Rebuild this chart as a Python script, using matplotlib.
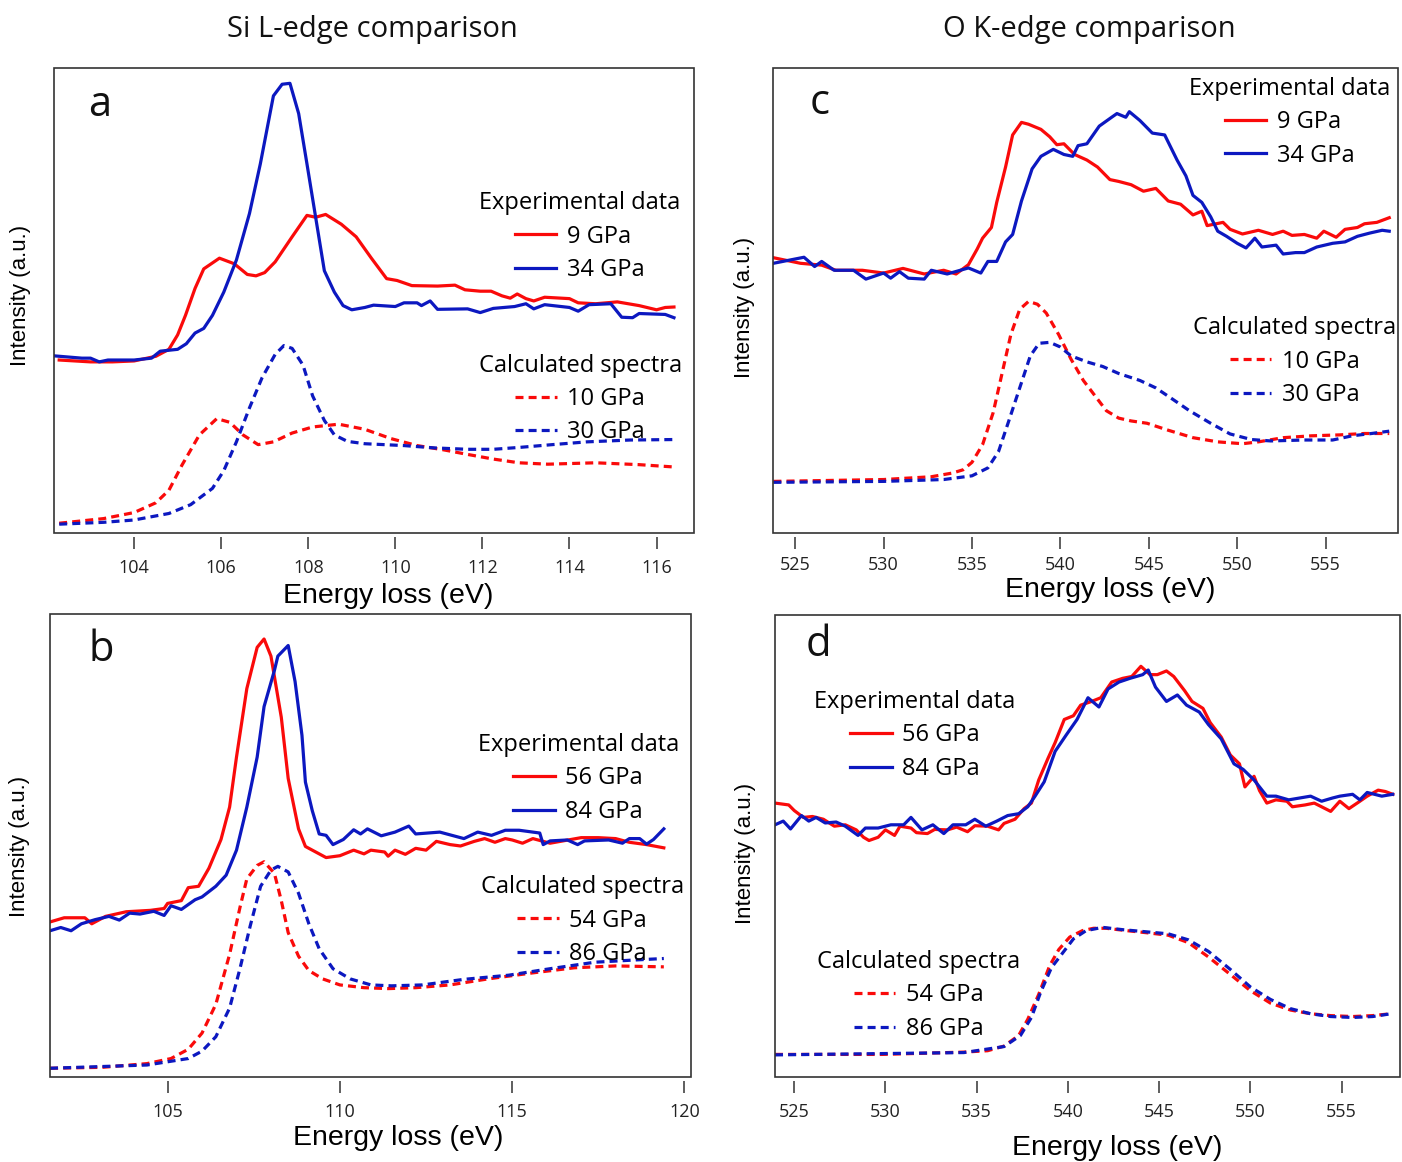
import matplotlib
matplotlib.use('Agg')
import matplotlib.pyplot as plt
from matplotlib.patches import Rectangle

# ---------------- datos ----------------
# panel a : Si L-edge, 9 / 34 GPa (experimental) y 10 / 30 GPa (calculado)
a_exp9_x = [102.28, 103.0, 103.5, 104.0, 104.5, 104.8, 105.0, 105.18, 105.4, 105.6, 105.96, 106.3, 106.6, 106.8,
            107.0, 107.24, 107.63, 107.97, 108.17, 108.4, 108.76, 109.1, 109.45, 109.8, 110.04, 110.38, 110.97,
            111.37, 111.6, 111.95, 112.2, 112.45, 112.64, 112.8, 113.0, 113.18, 113.43, 114.0, 114.2, 114.6, 115.1,
            115.6, 116.0, 116.2, 116.4]
a_exp9_y = [37.2, 36.8, 36.8, 37.0, 38.0, 39.5, 42.6, 46.8, 52.6, 56.8, 59.1, 57.9, 55.6, 55.3, 56.0, 58.3, 63.7,
            68.3, 67.9, 68.5, 66.4, 63.7, 59.1, 54.7, 54.3, 53.2, 53.1, 53.3, 52.3, 52.0, 52.0, 51.0, 50.5, 51.4,
            50.4, 49.9, 50.7, 50.4, 49.5, 49.3, 49.7, 48.9, 48.0, 48.5, 48.6]
a_exp34_x = [102.16, 102.8, 103.0, 103.2, 103.4, 104.0, 104.4, 104.6, 105.0, 105.2, 105.4, 105.6, 105.8, 106.06,
             106.35, 106.65, 106.9, 107.2, 107.4, 107.58, 107.78, 107.97, 108.17, 108.37, 108.6, 108.8, 109.0,
             109.3, 109.5, 110.0, 110.2, 110.5, 110.6, 110.8, 110.97, 111.66, 111.95, 112.25, 112.74, 113.0,
             113.18, 113.43, 114.0, 114.2, 114.45, 114.95, 115.2, 115.45, 115.6, 116.2, 116.4]
a_exp34_y = [38.1, 37.6, 37.6, 36.8, 37.2, 37.2, 37.6, 39.1, 39.5, 40.7, 43.0, 44.0, 46.8, 51.8, 58.7, 68.7, 79.4,
             94.0, 96.5, 96.7, 90.2, 79.4, 67.9, 56.4, 51.8, 48.9, 48.0, 48.5, 49.0, 48.7, 49.5, 49.5, 48.9, 49.9,
             48.1, 48.2, 47.4, 48.3, 48.7, 49.3, 48.2, 49.1, 48.5, 47.7, 49.1, 49.3, 46.4, 46.3, 47.2, 47.0, 46.3]
a_calc10_x = [102.28, 103.3, 104.0, 104.5, 104.8, 105.1, 105.5, 105.9, 106.2, 106.5, 106.85, 107.2, 107.63, 108.1,
              108.7, 109.3, 109.9, 110.5, 111.1, 111.66, 112.25, 112.84, 113.5, 114.6, 115.6, 116.4]
a_calc10_y = [2.1, 3.1, 4.4, 6.5, 9.2, 14.6, 21.1, 24.6, 23.8, 21.1, 19.0, 19.6, 21.5, 22.8, 23.4, 22.3, 20.3,
              18.8, 17.9, 16.9, 15.9, 15.1, 14.8, 15.1, 14.7, 14.2]
a_calc30_x = [102.28, 103.3, 104.0, 104.8, 105.3, 105.8, 106.06, 106.35, 106.65, 106.94, 107.24, 107.44, 107.63,
              107.88, 108.1, 108.37, 108.6, 108.9, 109.3, 110.2, 110.9, 111.66, 112.25, 112.84, 113.6, 114.4,
              115.4, 116.4]
a_calc30_y = [1.9, 2.3, 2.8, 4.2, 6.1, 9.6, 13.4, 19.6, 26.9, 33.4, 38.4, 40.3, 39.7, 36.1, 29.5, 24.2, 21.1,
              19.7, 19.2, 18.8, 18.3, 18.0, 18.0, 18.4, 19.0, 19.6, 20.0, 20.1]

# panel c : O K-edge, 9 / 34 GPa y 10 / 30 GPa
c_exp9_x = [523.77, 525.3, 526.5, 527.3, 528.8, 530.0, 531.1, 532.3, 533.4, 534.1, 534.8, 535.3, 535.6, 536.1,
            536.4, 536.9, 537.3, 537.8, 538.2, 538.9, 539.4, 539.8, 540.2, 540.8, 541.5, 542.1, 542.8, 543.3,
            544.0, 544.7, 545.4, 546.1, 546.8, 547.5, 548.0, 548.3, 549.2, 549.6, 550.3, 551.2, 552.0, 552.6,
            553.1, 553.8, 554.5, 554.9, 555.6, 556.1, 556.8, 557.2, 557.9, 558.6]
c_exp9_y = [59.2, 58.0, 57.6, 56.5, 56.5, 55.9, 56.9, 55.7, 56.5, 55.7, 57.7, 61.1, 63.4, 65.7, 71.1, 78.7, 85.6,
            88.3, 87.9, 86.8, 85.2, 83.5, 83.7, 81.4, 80.2, 78.7, 76.0, 75.6, 74.9, 73.5, 74.1, 71.4, 70.7, 68.4,
            69.2, 66.1, 66.8, 65.3, 64.3, 65.1, 64.2, 64.9, 64.0, 64.2, 63.4, 64.9, 63.6, 65.3, 65.7, 66.5, 66.8,
            67.8]
c_exp34_x = [523.77, 525.5, 526.1, 526.5, 527.2, 528.3, 529.0, 530.0, 530.4, 530.9, 531.4, 532.3, 532.7, 533.6,
             534.8, 535.5, 535.9, 536.4, 536.9, 537.3, 537.8, 538.4, 538.9, 539.6, 540.2, 540.7, 541.0, 541.5,
             542.2, 542.9, 543.2, 543.7, 543.9, 544.5, 545.2, 545.9, 546.6, 547.1, 547.5, 548.0, 548.5, 548.9,
             549.4, 550.0, 550.5, 551.0, 551.4, 552.2, 552.6, 553.3, 553.8, 554.5, 555.4, 556.1, 556.8, 557.5,
             558.2, 558.6]
c_exp34_y = [58.0, 59.3, 57.3, 58.4, 56.5, 56.5, 54.6, 55.9, 54.8, 56.2, 54.8, 54.6, 56.5, 55.7, 57.0, 55.9, 58.4,
             58.4, 62.6, 64.2, 71.4, 78.3, 81.0, 82.5, 81.4, 81.0, 83.3, 83.7, 87.5, 89.4, 90.2, 89.4, 90.6, 88.7,
             86.0, 85.6, 80.2, 76.8, 72.6, 71.1, 68.0, 64.9, 63.8, 62.3, 61.3, 63.4, 61.5, 61.9, 60.0, 60.3, 60.3,
             61.5, 62.3, 62.6, 63.8, 64.5, 65.1, 64.9]
c_calc10_x = [523.77, 530.0, 532.7, 533.9, 534.5, 535.0, 535.6, 536.2, 536.7, 537.2, 537.7, 538.2, 538.7, 539.2,
              539.9, 540.6, 541.3, 542.0, 542.6, 543.3, 544.0, 544.9, 546.1, 547.5, 548.9, 550.3, 551.2, 552.6,
              554.2, 555.8, 557.2, 558.6]
c_calc10_y = [11.1, 11.5, 12.1, 12.9, 13.6, 15.2, 19.0, 25.9, 34.3, 42.7, 48.1, 49.8, 49.2, 47.3, 42.7, 37.4, 32.8,
              29.3, 26.3, 24.7, 24.1, 23.6, 22.1, 20.5, 19.6, 19.2, 19.6, 20.5, 20.9, 21.1, 21.4, 21.4]
c_calc30_x = [523.77, 530.0, 533.4, 535.0, 535.9, 536.5, 537.1, 537.7, 538.3, 538.8, 539.4, 540.0, 540.6, 541.5,
              542.4, 543.3, 544.5, 545.4, 546.3, 547.3, 548.5, 549.6, 550.8, 551.9, 553.8, 555.4, 556.5, 557.6,
              558.6]
c_calc30_y = [10.9, 11.1, 11.5, 12.3, 14.0, 17.5, 24.3, 31.2, 38.1, 40.8, 41.0, 40.0, 38.1, 36.8, 35.8, 34.3, 32.8,
              31.2, 28.9, 26.3, 23.6, 21.3, 20.1, 19.8, 20.0, 20.0, 20.9, 21.4, 21.9]

# panel b : Si L-edge, 56 / 84 GPa y 54 / 86 GPa
b_exp56_x = [101.59, 102.0, 102.6, 102.8, 103.2, 103.8, 104.5, 104.9, 105.0, 105.4, 105.6, 105.9, 106.2, 106.55,
             106.8, 107.0, 107.3, 107.6, 107.8, 108.0, 108.3, 108.5, 108.8, 109.0, 109.3, 109.6, 110.0, 110.4,
             110.7, 110.9, 111.3, 111.4, 111.6, 111.9, 112.2, 112.5, 112.8, 113.2, 113.5, 113.9, 114.2, 114.5,
             114.8, 115.0, 115.3, 115.6, 116.1, 116.7, 117.0, 117.5, 118.0, 118.4, 118.9, 119.4]
b_exp56_y = [33.5, 34.4, 34.4, 33.1, 34.7, 35.7, 36.0, 36.4, 37.5, 38.1, 40.9, 41.2, 45.1, 51.3, 58.3, 69.1, 83.9,
             92.8, 94.6, 90.9, 77.7, 64.5, 53.6, 49.8, 48.6, 47.4, 47.8, 49.0, 48.2, 49.0, 48.6, 47.7, 49.0, 48.1,
             49.4, 49.0, 50.9, 50.2, 49.9, 50.9, 51.5, 50.7, 51.5, 51.2, 50.5, 51.5, 50.5, 51.3, 51.7, 51.7, 51.5,
             50.7, 50.2, 49.5]
b_exp84_x = [101.59, 101.9, 102.2, 102.5, 102.9, 103.3, 103.6, 103.9, 104.2, 104.6, 104.9, 105.1, 105.4, 105.8,
             106.0, 106.4, 106.7, 107.0, 107.3, 107.6, 107.8, 108.1, 108.2, 108.5, 108.7, 108.9, 109.0, 109.2,
             109.4, 109.6, 109.8, 110.1, 110.4, 110.6, 110.8, 111.2, 111.6, 112.0, 112.2, 112.9, 113.6, 114.0,
             114.4, 114.8, 115.2, 115.8, 115.9, 116.1, 116.6, 116.9, 117.1, 117.8, 118.2, 118.4, 118.7, 118.9,
             119.1, 119.4]
b_exp84_y = [31.6, 32.3, 31.6, 33.1, 34.0, 34.7, 33.9, 35.4, 35.2, 35.8, 34.9, 37.0, 36.2, 38.3, 38.9, 41.2, 43.6,
             49.0, 58.3, 69.1, 80.0, 87.8, 90.9, 93.2, 85.4, 73.8, 63.7, 57.5, 52.5, 52.2, 50.2, 51.3, 53.4, 52.5,
             53.6, 52.1, 52.9, 54.2, 52.5, 52.9, 51.5, 52.9, 52.2, 53.3, 53.3, 52.7, 50.2, 51.0, 51.2, 50.2, 51.0,
             51.2, 50.5, 51.5, 51.5, 50.3, 51.3, 53.6]
b_calc54_x = [101.59, 103.1, 104.4, 105.1, 105.6, 106.0, 106.4, 106.8, 107.1, 107.3, 107.6, 107.8, 108.1, 108.3,
              108.5, 108.8, 109.1, 109.5, 110.0, 110.7, 111.4, 112.2, 113.2, 114.3, 115.6, 116.8, 118.0, 119.4]
b_calc54_y = [1.9, 2.1, 2.9, 4.0, 6.0, 9.5, 15.7, 26.5, 36.6, 42.8, 45.7, 46.5, 44.0, 38.1, 31.2, 26.1, 23.0, 21.2,
              19.9, 19.3, 19.1, 19.3, 19.9, 21.2, 22.5, 23.6, 24.0, 23.8]
b_calc86_x = [101.59, 104.4, 105.0, 105.6, 106.0, 106.4, 106.8, 107.1, 107.4, 107.7, 108.0, 108.2, 108.5, 108.8,
              109.1, 109.4, 109.8, 110.3, 110.9, 111.5, 112.4, 113.6, 114.9, 116.1, 117.4, 118.6, 119.4]
b_calc86_y = [1.9, 2.6, 3.3, 4.0, 5.6, 8.7, 14.9, 23.4, 32.7, 41.2, 44.7, 45.5, 44.3, 39.7, 33.1, 27.7, 23.4, 21.2,
              19.9, 19.7, 19.9, 21.1, 22.0, 23.4, 24.8, 25.3, 25.6]

# panel d : O K-edge, 56 / 84 GPa y 54 / 86 GPa
d_exp56_x = [523.95, 524.7, 525.0, 525.5, 526.0, 526.6, 527.2, 527.8, 528.4, 528.8, 529.1, 529.6, 530.0, 530.5,
             530.8, 531.4, 531.7, 532.3, 532.7, 533.4, 533.9, 534.5, 534.9, 535.6, 536.2, 536.5, 537.1, 537.6,
             538.0, 538.4, 538.9, 539.3, 539.8, 540.3, 540.7, 541.3, 541.8, 542.4, 543.0, 543.5, 544.0, 544.5,
             544.9, 545.4, 545.8, 546.4, 546.8, 547.4, 547.8, 548.4, 548.9, 549.4, 549.7, 550.2, 550.5, 550.9,
             551.4, 552.0, 552.3, 553.0, 553.5, 554.0, 554.4, 554.9, 555.4, 556.0, 556.4, 557.0, 557.4, 557.8]
d_exp56_y = [59.3, 58.9, 57.7, 56.2, 56.4, 55.8, 54.3, 54.6, 53.5, 51.9, 51.2, 51.9, 53.5, 52.3, 54.3, 53.9, 52.9,
             52.7, 53.6, 53.5, 54.1, 53.1, 54.4, 54.3, 53.5, 54.9, 55.8, 58.1, 59.3, 64.3, 68.9, 72.4, 77.4, 78.2,
             80.5, 81.3, 82.1, 85.5, 86.3, 86.7, 88.9, 87.1, 87.1, 87.9, 86.7, 83.6, 81.3, 79.8, 76.7, 73.6, 69.7,
             67.8, 62.8, 65.1, 62.0, 59.3, 60.0, 59.7, 58.5, 58.9, 59.3, 58.3, 57.5, 59.7, 58.1, 59.7, 60.8, 62.1,
             61.8, 61.2]
d_exp84_x = [523.95, 524.4, 524.8, 525.4, 525.8, 526.2, 526.7, 527.3, 527.8, 528.5, 528.9, 529.6, 530.3, 531.0,
             531.4, 532.0, 532.6, 533.2, 533.7, 534.4, 534.9, 535.5, 536.1, 536.7, 537.3, 537.8, 538.2, 538.7,
             539.3, 539.9, 540.5, 541.1, 541.7, 542.2, 542.8, 543.4, 544.1, 544.4, 544.8, 545.4, 546.0, 546.5,
             547.2, 547.7, 548.4, 549.1, 549.6, 550.2, 550.9, 551.4, 552.1, 552.7, 553.3, 553.9, 554.5, 554.9,
             555.6, 556.0, 556.4, 557.2, 557.8]
d_exp84_y = [54.6, 55.4, 53.7, 56.6, 55.4, 56.2, 55.0, 55.2, 54.3, 52.3, 53.9, 53.9, 54.6, 54.6, 56.2, 53.5, 54.6,
             52.7, 54.6, 54.6, 55.8, 54.3, 55.4, 56.6, 57.0, 58.5, 60.8, 63.9, 70.5, 74.0, 77.4, 82.1, 80.1, 84.0,
             85.5, 86.3, 87.1, 88.1, 84.4, 81.3, 82.7, 80.5, 79.0, 76.3, 73.2, 67.8, 66.6, 64.3, 60.8, 60.8, 60.0,
             60.4, 60.8, 59.7, 60.4, 60.8, 61.2, 60.0, 61.6, 60.8, 61.2]
d_calc54_x = [523.95, 529.8, 534.3, 535.6, 536.5, 537.3, 537.8, 538.4, 539.0, 539.5, 540.1, 540.8, 541.4, 542.1,
              543.2, 544.4, 545.5, 546.6, 547.7, 548.9, 550.0, 551.1, 552.2, 553.3, 554.4, 555.6, 556.7, 557.7]
d_calc54_y = [4.9, 4.9, 5.4, 5.7, 6.7, 9.0, 12.5, 17.9, 24.1, 27.6, 30.3, 31.7, 32.2, 32.2, 31.7, 31.2, 30.7, 29.1,
              26.0, 22.2, 18.7, 16.0, 14.5, 13.7, 13.3, 13.1, 13.3, 13.7]
d_calc86_x = [523.95, 534.3, 536.5, 537.4, 538.0, 538.5, 539.1, 539.7, 540.3, 541.0, 541.9, 543.0, 544.4, 545.5,
              546.6, 547.7, 548.9, 550.0, 551.1, 552.2, 553.3, 554.4, 555.6, 556.7, 557.7]
d_calc86_y = [4.8, 5.3, 6.6, 9.0, 12.9, 18.3, 23.7, 26.8, 29.9, 31.7, 32.4, 31.9, 31.4, 31.0, 29.7, 27.2, 23.3,
              19.5, 16.8, 14.8, 13.7, 13.1, 12.9, 13.1, 13.7]

ticks_si_a = [104, 106, 108, 110, 112, 114, 116]
ticks_si_b = [105, 110, 115, 120]
ticks_o = [525, 530, 535, 540, 545, 550, 555]

ROJO = '#fa0a0a'
AZUL = '#0c18c0'
BORDE = '#333333'
DASH = (0, (2.5, 1.6))

plt.rcParams['font.family'] = ['Open Sans', 'DejaVu Sans']


def Panel(fig, rect, xlim, ticks, letra, letra_pos, series, nombres, leg_exp, leg_calc, xlab_pos, ylab_pos,
          tick_pad=7):
    ax = fig.add_axes(rect)
    lineas = []
    for (x, y), color, ls in zip(series, [ROJO, AZUL, ROJO, AZUL], ['-', '-', DASH, DASH]):
        l, = ax.plot(x, y, color=color, lw=2.3, linestyle=ls, solid_joinstyle='round')
        lineas.append(l)
    ax.set_xlim(xlim)
    ax.set_ylim(0, 100)
    ax.set_yticks([])
    ax.set_xticks(ticks)
    ax.tick_params(axis='x', direction='out', length=8.5, width=1.1, color=BORDE, pad=tick_pad,
                   labelsize=13, labelcolor='#222222')
    # ticks separados del recuadro (estilo R)
    for s in ax.spines.values():
        s.set_visible(False)
    ax.spines['bottom'].set_position(('outward', 3))
    ax.add_patch(Rectangle((0, 0), 1, 1, transform=ax.transAxes, fill=False,
                           lw=1.2, ec=BORDE, clip_on=False, zorder=5))

    ax.text(letra_pos[0], letra_pos[1], letra, transform=ax.transAxes, fontsize=30,
            ha='center', va='center', color='#111111')

    ax.set_xlabel('Energy loss (eV)', fontsize=20.5, family='Liberation Sans', va='center')
    ax.xaxis.set_label_coords(*xlab_pos)
    ax.set_ylabel('Intensity (a.u.)', fontsize=16, family='Liberation Sans', va='center')
    ax.yaxis.set_label_coords(*ylab_pos)

    kw = dict(loc='upper center', frameon=False, alignment='center', fontsize=17, title_fontsize=17,
              handlelength=1.75, handletextpad=0.45, labelspacing=0.4, borderpad=0, borderaxespad=0)
    l1 = ax.legend(lineas[:2], nombres[:2], title='Experimental data', bbox_to_anchor=leg_exp, **kw)
    ax.add_artist(l1)
    ax.legend(lineas[2:], nombres[2:], title='Calculated spectra', bbox_to_anchor=leg_calc, **kw)
    return ax


fig = plt.figure(figsize=(14.02, 11.62), dpi=100)

Panel(fig, [0.0385, 0.5413, 0.4565, 0.4002], (102.16, 116.86), ticks_si_a, 'a', (0.072, 0.92),
      [(a_exp9_x, a_exp9_y), (a_exp34_x, a_exp34_y), (a_calc10_x, a_calc10_y), (a_calc30_x, a_calc30_y)],
      ['9 GPa', '34 GPa', '10 GPa', '30 GPa'], (0.821, 0.735), (0.822, 0.386), (0.522, -0.1355), (-0.053, 0.51))

Panel(fig, [0.5514, 0.5413, 0.4458, 0.4002], (523.75, 559.1), ticks_o, 'c', (0.075, 0.925),
      [(c_exp9_x, c_exp9_y), (c_exp34_x, c_exp34_y), (c_calc10_x, c_calc10_y), (c_calc30_x, c_calc30_y)],
      ['9 GPa', '34 GPa', '10 GPa', '30 GPa'], (0.827, 0.981), (0.835, 0.466), (0.539, -0.122), (-0.046, 0.484),
      tick_pad=5)

Panel(fig, [0.0357, 0.0731, 0.4572, 0.3985], (101.59, 120.19), ticks_si_b, 'b', (0.08, 0.922),
      [(b_exp56_x, b_exp56_y), (b_exp84_x, b_exp84_y), (b_calc54_x, b_calc54_y), (b_calc86_x, b_calc86_y)],
      ['56 GPa', '84 GPa', '54 GPa', '86 GPa'], (0.824, 0.743), (0.83, 0.436), (0.543, -0.132), (-0.047, 0.499))

Panel(fig, [0.5528, 0.0731, 0.4458, 0.3976], (523.95, 558.2), ticks_o, 'd', (0.069, 0.935),
      [(d_exp56_x, d_exp56_y), (d_exp84_x, d_exp84_y), (d_calc54_x, d_calc54_y), (d_calc86_x, d_calc86_y)],
      ['56 GPa', '84 GPa', '54 GPa', '86 GPa'], (0.224, 0.838), (0.23, 0.275), (0.548, -0.154), (-0.048, 0.485))

fig.text(372 / 1402, 1 - 30 / 1162, 'Si L-edge comparison', fontsize=21, ha='center', va='center', color='#111111')
fig.text(1089 / 1402, 1 - 30 / 1162, 'O K-edge comparison', fontsize=21, ha='center', va='center', color='#111111')

plt.savefig('out.png', dpi=100)
